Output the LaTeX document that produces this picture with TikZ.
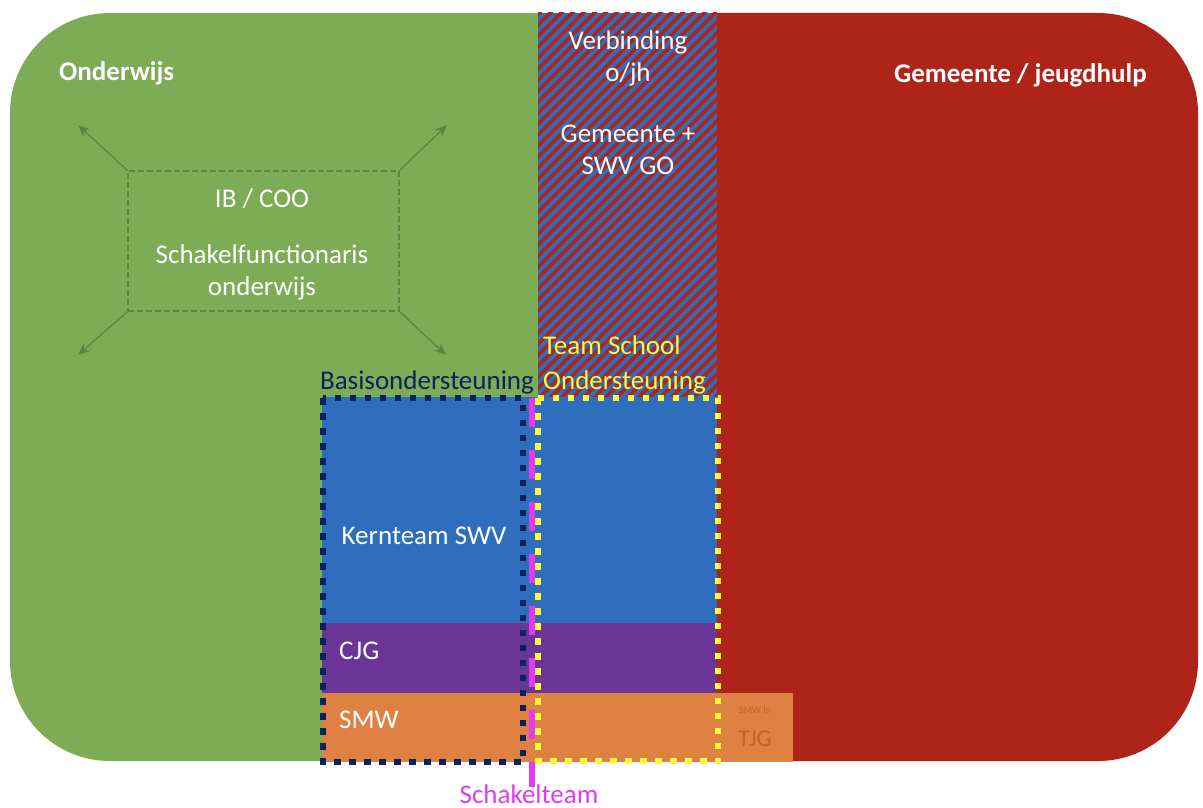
\documentclass[tikz,border=0pt]{standalone}
\usepackage{fontspec}
\setmainfont{Carlito}
\definecolor{cgreen}{HTML}{7EAB55}
\definecolor{cred}{HTML}{AE2418}
\definecolor{cblue}{HTML}{2E6EBD}
\definecolor{cpurple}{HTML}{6B3597}
\definecolor{corange}{HTML}{DF8143}
\definecolor{cnavy}{HTML}{0B2260}
\definecolor{cyellow}{HTML}{FFF83C}
\definecolor{cmagenta}{HTML}{E13BF2}
\definecolor{cdkgreen}{HTML}{5A8540}
\definecolor{ctjg}{HTML}{C0622C}
\tikzset{
  lbl/.style={text=white, font=\fontsize{27}{32}\selectfont, align=center, inner sep=0pt},
  hdr/.style={text=white, font=\bfseries\fontsize{27}{32}\selectfont, inner sep=0pt},
  dotbox/.style={line width=6.2pt, line cap=butt, dash pattern=on 6.5pt off 8.5pt},
  arr/.style={cdkgreen, line width=1.3pt, -{Stealth[length=12pt,width=10pt]}},
}
\usetikzlibrary{arrows.meta}
\begin{document}
\begin{tikzpicture}[x=1pt,y=-1pt]
\useasboundingbox (0,0) rectangle (1203,808);
% background regions
\begin{scope}
\clip[rounded corners=100pt] (10,13) rectangle (1198,761);
\fill[cgreen] (0,0) rectangle (540,808);
\fill[cred] (715,0) rectangle (1203,808);
\end{scope}
% hatched column
\begin{scope}
\clip (538,13) rectangle (717,398);
\fill[cblue] (538,13) rectangle (717,398);
\foreach \t in {-408,-397,...,200}
  \draw[cred, line width=3.8pt] (538+\t,400) -- (538+\t+390,10);
\end{scope}
% inner coloured bands
\fill[cblue] (322,397) rectangle (717,623);
\fill[cpurple] (322,623) rectangle (717,693);
\fill[corange] (322,693) rectangle (793,762);
% headers
\node[hdr, anchor=west] (onderwijs) at (59,73) {Onderwijs};
\node[hdr, anchor=east] (gemeente) at (1147,75) {Gemeente / jeugdhulp};
% hatched column text
\node[lbl] (verb) at (628,58) {Verbinding\\o/jh};
\node[lbl] (swvgo) at (628,150) {Gemeente +\\SWV GO};
% dashed box with arrows
\node[draw=cdkgreen, dash pattern=on 6pt off 3pt, line width=1.2pt, minimum width=271pt, minimum height=140pt, inner sep=0pt] (ib) at (263.5,241) {};
\node[lbl] (ibtxt) at (262,199) {IB / COO};
\node[lbl] (schf) at (262,272) {Schakelfunctionaris\\onderwijs};
\coordinate (atl) at (78,125);
\coordinate (atr) at (447,125);
\coordinate (abl) at (78,355);
\coordinate (abr) at (446,355);
\draw[arr] (ib.north west) -- (atl);
\draw[arr] (ib.north east) -- (atr);
\draw[arr] (ib.south west) -- (abl);
\draw[arr] (ib.south east) -- (abr);
% band labels
\node[lbl] (kern) at (424,536) {Kernteam SWV};
\node[lbl, anchor=west] (cjg) at (339,651) {CJG};
\node[lbl, anchor=west] (smw) at (339,720) {SMW};
\node[text=ctjg, font=\fontsize{10}{12}\selectfont, inner sep=0pt] (smwin) at (755,710) {SMW in};
\node[text=ctjg, font=\fontsize{24}{28}\selectfont, inner sep=0pt] (tjg) at (755,739) {TJG};
% dotted boxes
\draw[cnavy, dotbox] (323,398) rectangle (523,762);
\draw[cyellow, dotbox] (538,398) rectangle (718,761);
% schakelteam line
\coordinate (st0) at (532,398);
\coordinate (st1) at (532,787);
\draw[cmagenta, line width=6.5pt, dash pattern=on 29pt off 23pt] (st0) -- (st1);
% titles
\node[text=cnavy, font=\fontsize{27}{32}\selectfont, inner sep=0pt] (basis) at (427,382) {Basisondersteuning};
\node[text=cyellow, font=\fontsize{27}{35}\selectfont, align=left, inner sep=0pt, anchor=west] (tso) at (543,365) {Team School\\Ondersteuning};
\node[text=cmagenta, font=\fontsize{27}{32}\selectfont, inner sep=0pt, anchor=base] (schakel) at (529,803) {Schakelteam};
\end{tikzpicture}
\end{document}
